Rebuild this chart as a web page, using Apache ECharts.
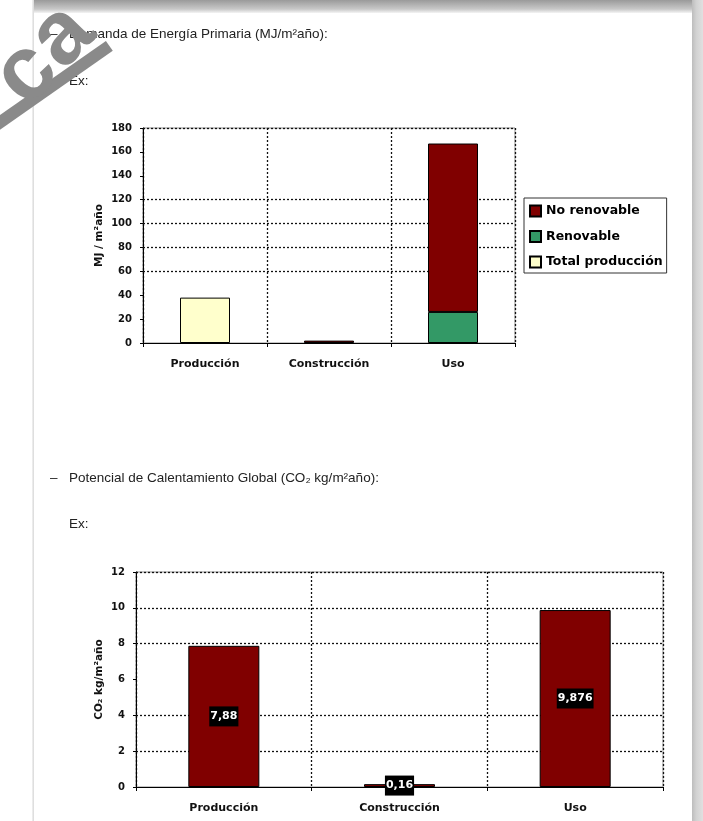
<!DOCTYPE html>
<html>
<head>
<meta charset="utf-8">
<script src="https://cdn.jsdelivr.net/npm/echarts@6/dist/echarts.min.js"></script>
<style>
html,body{margin:0;padding:0;background:#fff;}
#wrap{position:relative;width:703px;height:821px;overflow:hidden;background:#fff;}
#chart{position:absolute;left:0;top:0;width:703px;height:821px;}
.txt{position:absolute;font-family:"Liberation Sans",Arial,sans-serif;font-size:13.5px;color:#222;white-space:nowrap;line-height:16px;}
#topband{position:absolute;left:33px;top:0;width:670px;height:13px;background:linear-gradient(to bottom,#9a9a9a,#c8c8c8 70%,#f4f4f4);}
#rightband{position:absolute;left:692px;top:0;width:11px;height:821px;background:linear-gradient(to right,#bdbdbd,#d2d2d2 40%,#e0e0e0);}
#leftline{position:absolute;left:32px;top:0;width:2px;height:821px;background:linear-gradient(to right,#f2f2f2,#d8d8d8);}
#wm{position:absolute;left:41px;top:50px;font-family:"Liberation Sans",Arial,sans-serif;font-weight:bold;font-size:90px;line-height:90px;letter-spacing:2px;color:#8a8a8a;transform:translate(-50%,-50%) rotate(-46deg);white-space:nowrap;}
#wmbar{position:absolute;left:52px;top:86px;width:140px;height:12px;background:#8a8a8a;transform:translate(-50%,-50%) rotate(-35deg);}
</style>
</head>
<body>
<div id="wrap">
  <div id="topband"></div>
  <div id="rightband"></div>
  <div id="leftline"></div>
  <div id="chart"></div>
  <div class="txt" style="left:50px;top:26px;">–</div>
  <div class="txt" style="left:69px;top:26px;">Demanda de Energía Primaria (MJ/m²año):</div>
  <div class="txt" style="left:69px;top:73px;">Ex:</div>
  <div class="txt" style="left:50px;top:470px;">–</div>
  <div class="txt" style="left:69px;top:470px;">Potencial de Calentamiento Global (CO₂ kg/m²año):</div>
  <div class="txt" style="left:69px;top:516px;">Ex:</div>
  <div id="wmbar"></div>
  <div id="wm">ca</div>
</div>
<script>
// ---- data ----
const categories = ['Producción', 'Construcción', 'Uso'];
const legendNames = ['No renovable', 'Renovable', 'Total producción'];
const renovable = [null, null, 26];
const noRenovable = [null, 2, 141];
const totalProduccion = [38, null, null];
const energyGridLines = [60, 80, 100, 120, 180];
const co2Values = [7.88, 0.16, 9.876];
const co2GridLines = [2, 4, 8, 10, 12];

const FONT = 'DejaVu Sans';
const dotted = {color: '#111', width: 1.3, type: [2, 2]};
const markLines = vals => ({
  silent: true, symbol: 'none', z: 1,
  label: {show: false},
  lineStyle: dotted,
  data: vals.map(v => ({yAxis: v}))
});
const xAxisBase = (gi) => ({
  gridIndex: gi, type: 'category', data: categories,
  axisLine: {lineStyle: {color: '#000', width: 1}},
  axisTick: {show: true, length: 4, lineStyle: {color: '#000'}},
  axisLabel: {fontFamily: FONT, fontWeight: 'bold', fontSize: 11, color: '#111', margin: 16},
  splitLine: {show: true, interval: 0, lineStyle: dotted}
});
const yAxisBase = (gi, max, interval, name, gap) => ({
  gridIndex: gi, type: 'value', min: 0, max: max, interval: interval,
  name: name, nameLocation: 'middle', nameGap: gap, nameMoveOverlap: false,
  nameTextStyle: {fontFamily: FONT, fontWeight: 'bold', fontSize: 10.5, color: '#111'},
  axisLine: {show: true, lineStyle: {color: '#000', width: 1}},
  axisTick: {show: true, length: 3, lineStyle: {color: '#000'}},
  axisLabel: {fontFamily: FONT, fontWeight: 'bold', fontSize: 10, color: '#111', margin: 11},
  splitLine: {show: false}
});

const chart = echarts.init(document.getElementById('chart'), null, {renderer: 'canvas'});
chart.setOption({
  animation: false,
  grid: [
    {left: 143, top: 128, width: 372, height: 215, show: true, borderColor: '#8c8c8c', borderWidth: 1},
    {left: 136, top: 572, width: 527, height: 215, show: true, borderColor: '#8c8c8c', borderWidth: 1}
  ],
  legend: {
    data: legendNames, orient: 'vertical', left: 524, top: 198,
    icon: 'rect', itemWidth: 11, itemHeight: 11, itemGap: 11.5,
    padding: [6, 4, 4, 5],
    borderColor: '#333', borderWidth: 1, backgroundColor: '#fff',
    textStyle: {fontFamily: FONT, fontWeight: 'bold', fontSize: 12.5, color: '#000', lineHeight: 14}
  },
  xAxis: [xAxisBase(0), xAxisBase(1)],
  yAxis: [
    yAxisBase(0, 180, 20, 'MJ / m²año', 38),
    yAxisBase(1, 12, 2, 'CO₂ kg/m²año', 31)
  ],
  series: [
    {name: 'Renovable', type: 'bar', stack: 'e', xAxisIndex: 0, yAxisIndex: 0, barWidth: 50,
     data: renovable, itemStyle: {color: '#339966', borderColor: '#000', borderWidth: 1},
     markLine: markLines(energyGridLines)},
    {name: 'No renovable', type: 'bar', stack: 'e', xAxisIndex: 0, yAxisIndex: 0, barWidth: 50,
     data: noRenovable, itemStyle: {color: '#800000', borderColor: '#000', borderWidth: 1}},
    {name: 'Total producción', type: 'bar', stack: 'e', xAxisIndex: 0, yAxisIndex: 0, barWidth: 50,
     data: totalProduccion, itemStyle: {color: '#FFFFCC', borderColor: '#000', borderWidth: 1}},
    {name: 'CO2', type: 'bar', xAxisIndex: 1, yAxisIndex: 1, barWidth: 71,
     data: co2Values, itemStyle: {color: '#800000', borderColor: '#000', borderWidth: 1},
     label: {show: true, position: 'inside', formatter: p => String(p.value).replace('.', ','),
       color: '#fff', backgroundColor: '#000', fontFamily: FONT, fontWeight: 'bold', fontSize: 11, padding: [5, 1, 4, 1]},
     markLine: markLines(co2GridLines)}
  ]
});
</script>
</body>
</html>
